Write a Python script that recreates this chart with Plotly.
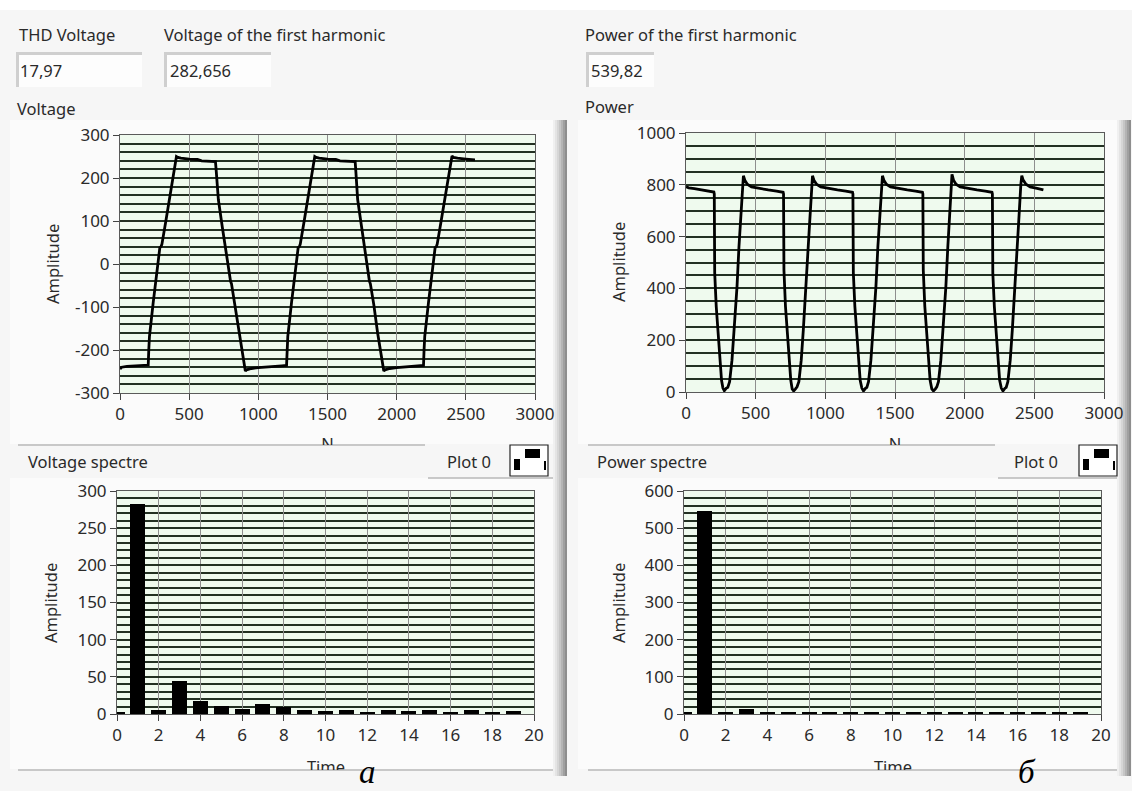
import plotly.graph_objects as go

W, H = 1132, 791

# ---------------- data ----------------
THD_VOLTAGE = "17,97"
V_FIRST = "282,656"
P_FIRST = "539,82"

VOLTAGE_TRACE = [
    (0, -244), (12, -240), (50, -238), (100, -237), (160, -236), (204, -235), (208, -200), (213, -168),
    (240, -90), (265, -20), (283, 32), (288, 38), (297, 41), (303, 46), (330, 97), (355, 143), (380, 190),
    (398, 232), (408, 250), (418, 248), (440, 246), (500, 244), (560, 243), (590, 240), (640, 239), (690, 238),
    (696, 215), (702, 185), (711, 150), (740, 85), (770, 20), (793, -34), (799, -40), (806, -46), (830, -95),
    (860, -160), (885, -212), (900, -245), (906, -249), (915, -246), (950, -243), (1000, -241), (1060, -239),
    (1120, -238), (1170, -237), (1204, -236),
    (1208, -200), (1213, -168), (1240, -90), (1265, -20), (1283, 32), (1288, 38), (1297, 41), (1303, 46),
    (1330, 97), (1355, 143), (1380, 190), (1398, 232), (1408, 250), (1418, 248), (1440, 246), (1500, 244),
    (1560, 243), (1590, 240), (1640, 239), (1700, 238), (1705, 215), (1710, 185), (1718, 150), (1747, 85),
    (1775, 20), (1797, -34), (1803, -40), (1810, -46), (1835, -95), (1862, -160), (1887, -212), (1900, -245),
    (1907, -249), (1916, -246), (1950, -243), (2000, -241), (2060, -239), (2120, -238), (2160, -237), (2194, -236),
    (2198, -200), (2203, -168), (2230, -90), (2255, -20), (2273, 32), (2278, 38), (2287, 41), (2293, 46),
    (2320, 97), (2345, 143), (2370, 190), (2390, 232), (2400, 251), (2410, 248), (2440, 246), (2500, 244),
    (2540, 243), (2566, 242),
]

POWER_TRACE = [
    (0, 792), (20, 788), (60, 785), (110, 780), (160, 776), (200, 772), (203, 765), (206, 460), (217, 330),
    (230, 230), (241, 123), (255, 45), (265, 15), (275, 5), (288, 14), (300, 18), (313, 40), (322, 90),
    (330, 123), (345, 240), (366, 406), (380, 560), (390, 650), (397, 735), (405, 800), (412, 835), (422, 818),
    (440, 802), (470, 792), (520, 786), (590, 780), (650, 776), (697, 771),
    (700, 765), (703, 470), (714, 330), (727, 230), (738, 123), (752, 45), (762, 12), (773, 4), (786, 12),
    (797, 20), (810, 40), (819, 90), (827, 123), (842, 240), (863, 406), (877, 560), (887, 650), (895, 735),
    (902, 800), (908, 835), (918, 818), (937, 802), (967, 792), (1017, 786), (1087, 780), (1147, 776), (1195, 771),
    (1198, 765), (1201, 460), (1212, 330), (1225, 230), (1236, 123), (1250, 45), (1262, 15), (1274, 4),
    (1288, 14), (1298, 18), (1310, 40), (1319, 90), (1327, 123), (1342, 240), (1363, 406), (1377, 560),
    (1387, 650), (1395, 735), (1403, 800), (1410, 835), (1420, 818), (1438, 802), (1468, 792), (1518, 786),
    (1588, 780), (1648, 776), (1697, 771),
    (1700, 765), (1703, 470), (1714, 330), (1727, 230), (1738, 123), (1752, 45), (1764, 12), (1776, 4),
    (1790, 12), (1800, 20), (1812, 40), (1821, 90), (1829, 123), (1844, 240), (1865, 406), (1879, 560),
    (1889, 650), (1897, 735), (1904, 800), (1909, 840), (1920, 818), (1938, 802), (1968, 792), (2018, 786),
    (2088, 780), (2148, 776), (2196, 771),
    (2199, 765), (2202, 460), (2213, 330), (2226, 230), (2237, 123), (2251, 45), (2263, 15), (2275, 4),
    (2288, 14), (2298, 18), (2310, 40), (2319, 90), (2327, 123), (2342, 240), (2363, 406), (2377, 560),
    (2387, 650), (2395, 735), (2403, 800), (2410, 835), (2420, 818), (2440, 802), (2470, 792), (2520, 786),
    (2565, 780),
]

HARMONICS = [0, 1, 2, 3, 4, 5, 6, 7, 8, 9, 10, 11, 12, 13, 14, 15, 16, 17, 18, 19]
VOLTAGE_SPECTRE = [2, 283, 5, 45, 18, 11, 7, 14, 10, 5, 4, 5, 2, 5, 4, 5, 2, 5, 2, 4]
POWER_SPECTRE = [4, 545, 4, 14, 4, 4, 4, 4, 4, 4, 4, 4, 4, 4, 4, 4, 4, 4, 4, 4]

V_TICKS = [-300, -200, -100, 0, 100, 200, 300]
V_TICK_TEXT = ["-300", "-200", "-100", "0", "100", "200", "300"]

# ---------------- helpers ----------------
def X(px):
    return px / W

def Y(py):
    return 1 - py / H

FONT = "Noto Sans, Open Sans, DejaVu Sans, sans-serif"
TXT = "#2a2a2a"
GRID_H = "#223022"
GRID_V = "#8e8e8e"
PLOT_BG = "#effaee"
FS = 16.5
TICK_FS = 17

fig = go.Figure()

fig.add_trace(go.Scatter(x=[p[0] for p in VOLTAGE_TRACE], y=[p[1] for p in VOLTAGE_TRACE],
                         mode="lines", line=dict(color="black", width=2.8), xaxis="x", yaxis="y",
                         showlegend=False, hoverinfo="skip"))
fig.add_trace(go.Scatter(x=[p[0] for p in POWER_TRACE], y=[p[1] for p in POWER_TRACE],
                         mode="lines", line=dict(color="black", width=2.8), xaxis="x2", yaxis="y2",
                         showlegend=False, hoverinfo="skip"))
fig.add_trace(go.Bar(x=HARMONICS, y=VOLTAGE_SPECTRE, width=0.72, marker=dict(color="black", line=dict(width=0)),
                     xaxis="x3", yaxis="y3", showlegend=False, hoverinfo="skip"))
fig.add_trace(go.Bar(x=HARMONICS, y=POWER_SPECTRE, width=0.72, marker=dict(color="black", line=dict(width=0)),
                     xaxis="x4", yaxis="y4", showlegend=False, hoverinfo="skip"))

# clipped axis titles ("N" and "Time" cut by the panel border)
fig.add_trace(go.Scatter(x=[327.5, 895], y=[446, 446], mode="text", text=["N", "N"],
                         textfont=dict(family=FONT, size=FS, color=TXT), xaxis="x5", yaxis="y5",
                         showlegend=False, hoverinfo="skip", cliponaxis=True))
fig.add_trace(go.Scatter(x=[326, 893], y=[769, 769], mode="text", text=["Time", "Time"],
                         textfont=dict(family=FONT, size=FS, color=TXT), xaxis="x6", yaxis="y6",
                         showlegend=False, hoverinfo="skip", cliponaxis=True))

def xax(domain, rng, dtick, anchor):
    return dict(domain=domain, range=rng, dtick=dtick, tick0=0, anchor=anchor, automargin=False,
                showgrid=True, gridcolor=GRID_V, gridwidth=1, zeroline=False,
                ticks="outside", ticklen=6, tickcolor="#444", tickwidth=1,
                showline=True, linecolor="#5a5a5a", linewidth=1, mirror=True,
                tickfont=dict(family=FONT, size=TICK_FS, color=TXT), fixedrange=True)

def yax(domain, rng, dtick, minor, anchor):
    return dict(domain=domain, range=rng, dtick=dtick, tick0=0, anchor=anchor, automargin=False,
                showgrid=True, gridcolor=GRID_H, gridwidth=1.5, zeroline=False,
                minor=dict(dtick=minor, showgrid=True, gridcolor=GRID_H, gridwidth=1.5, ticks=""),
                ticks="outside", ticklen=6, tickcolor="#444", tickwidth=1,
                showline=True, linecolor="#5a5a5a", linewidth=1, mirror=True,
                tickfont=dict(family=FONT, size=TICK_FS, color=TXT), fixedrange=True)

def hidden(domain, rng, anchor):
    return dict(domain=domain, range=rng, anchor=anchor, visible=False, showgrid=False,
                zeroline=False, fixedrange=True, automargin=False)

yaxis1 = yax([Y(393), Y(135)], [-300, 300], 100, 20, "x")
yaxis1.update(tickmode="array", tickvals=V_TICKS, ticktext=V_TICK_TEXT)

fig.update_layout(
    width=W, height=H, autosize=False,
    margin=dict(l=0, r=0, t=0, b=0, pad=0, autoexpand=False),
    paper_bgcolor="#f6f6f6", plot_bgcolor="rgba(0,0,0,0)",
    bargap=0, showlegend=False,
    xaxis=xax([X(120), X(535)], [0, 3000], 500, "y"),
    yaxis=yaxis1,
    xaxis2=xax([X(686), X(1104)], [0, 3000], 500, "y2"),
    yaxis2=yax([Y(392), Y(133)], [0, 1000], 200, 50, "x2"),
    xaxis3=xax([X(117), X(534)], [0, 20], 2, "y3"),
    yaxis3=yax([Y(714), Y(491)], [0, 300], 50, 10, "x3"),
    xaxis4=xax([X(684), X(1101)], [0, 20], 2, "y4"),
    yaxis4=yax([Y(714), Y(491)], [0, 600], 100, 20, "x4"),
    xaxis5=hidden([0, 1], [0, W], "y5"),
    yaxis5=hidden([Y(445), Y(420)], [445, 420], "x5"),
    xaxis6=hidden([0, 1], [0, W], "y6"),
    yaxis6=hidden([Y(770), Y(745)], [770, 745], "x6"),
)

shapes = []

def rect(x0, y0, x1, y1, fill, line=None, lw=0, layer="below"):
    shapes.append(dict(type="rect", xref="paper", yref="paper", x0=X(x0), x1=X(x1), y0=Y(y1), y1=Y(y0),
                       fillcolor=fill, line=dict(color=line or fill, width=lw), layer=layer))

def hline(x0, x1, y, color, w=1):
    shapes.append(dict(type="line", xref="paper", yref="paper", x0=X(x0), x1=X(x1), y0=Y(y), y1=Y(y),
                       line=dict(color=color, width=w), layer="below"))

def vline(x, y0, y1, color, w=1):
    shapes.append(dict(type="line", xref="paper", yref="paper", x0=X(x), x1=X(x), y0=Y(y0), y1=Y(y1),
                       line=dict(color=color, width=w), layer="below"))

# top white strip
rect(0, 0, W, 10, "#ffffff")
# panels
rect(10, 120, 553, 444, "#fbfbfb")
rect(10, 478, 553, 769, "#fbfbfb")
rect(578, 120, 1118, 444, "#fbfbfb")
rect(578, 478, 1118, 769, "#fbfbfb")

# gradient scroll-like edges
for base in (553, 1117):
    for i, c in enumerate(["#f0f0f0", "#e4e4e4", "#d6d6d6", "#c6c6c6", "#b4b4b4", "#a0a0a0", "#8e8e8e"]):
        rect(base + i * 2, 120, base + i * 2 + 2, 776, c)

# panel separator lines
hline(18, 425, 445, "#b8b8b8", 1.5)
hline(428, 553, 478, "#b8b8b8", 1.5)
hline(18, 553, 770, "#b8b8b8", 1.5)
hline(588, 995, 445, "#b8b8b8", 1.5)
hline(998, 1117, 478, "#b8b8b8", 1.5)
hline(588, 1117, 770, "#b8b8b8", 1.5)

# plot backgrounds
for ax in ["x", "x2", "x3", "x4"]:
    yref = ax.replace("x", "y")
    shapes.append(dict(type="rect", xref=ax + " domain", yref=yref + " domain", x0=0, x1=1, y0=0, y1=1,
                       fillcolor=PLOT_BG, line=dict(width=0), layer="below"))

# indicator boxes
def field(x0, y0, x1, y1):
    rect(x0, y0, x1, y1, "#fdfdfd")
    hline(x0, x1, y0 + 1.5, "#cfcfcf", 3)
    vline(x0 + 1.5, y0, y1, "#cfcfcf", 3)

field(16, 52, 142, 87)
field(164, 52, 271, 87)
field(586, 52, 654, 87)

# legend icons ("Plot 0")
def icon(x0):
    rect(x0, 445, x0 + 38, 476, "#ffffff", "#222222", 1.2)
    rect(x0 + 4, 459, x0 + 10, 470, "#000000")
    rect(x0 + 15, 449, x0 + 30, 458, "#000000")
    rect(x0 + 34, 461, x0 + 36, 470, "#000000")

icon(510)
icon(1079)

fig.update_layout(shapes=shapes)

ann = []

def text(t, x, y, size=FS, xanchor="left", yanchor="middle", color=TXT, family=FONT, angle=0, italic=False):
    ann.append(dict(text=t, x=X(x), y=Y(y), xref="paper", yref="paper", xanchor=xanchor, yanchor=yanchor,
                    showarrow=False, textangle=angle, borderpad=0,
                    font=dict(family=family, size=size, color=color,
                              style="italic" if italic else "normal")))

text("THD Voltage", 18, 34)
text("Voltage of the first harmonic", 163, 34)
text("Power of the first harmonic", 584, 34)
text(THD_VOLTAGE, 19, 70)
text(V_FIRST, 169, 70)
text(P_FIRST, 590, 70)
text("Voltage", 16, 108)
text("Power", 584, 106)
text("Voltage spectre", 27, 461)
text("Power spectre", 596, 461)
text("Plot 0", 446, 461)
text("Plot 0", 1013, 461)
text("Amplitude", 52, 264, xanchor="center", angle=-90)
text("Amplitude", 618, 262, xanchor="center", angle=-90)
text("Amplitude", 50, 603, xanchor="center", angle=-90)
text("Amplitude", 618, 603, xanchor="center", angle=-90)
text("a", 367, 791, size=33, xanchor="center", yanchor="bottom", color="#000",
     family="Liberation Serif, Times New Roman, serif", italic=True)
text("б", 1027, 791, size=33, xanchor="center", yanchor="bottom", color="#000",
     family="Liberation Serif, Times New Roman, serif", italic=True)

fig.update_layout(annotations=ann)

POST = (
    "document.documentElement.style.margin='0';"
    "document.body.style.margin='0';"
    "document.body.style.padding='0';"
    "document.body.style.overflow='hidden';"
    "document.documentElement.style.overflow='hidden';"
    "var gd=document.getElementsByClassName('plotly-graph-div')[0];"
    "gd.style.position='fixed';gd.style.left='0px';gd.style.top='0px';"
)

fig.write_html("out.html", config={"displayModeBar": False, "responsive": False}, post_script=POST)
